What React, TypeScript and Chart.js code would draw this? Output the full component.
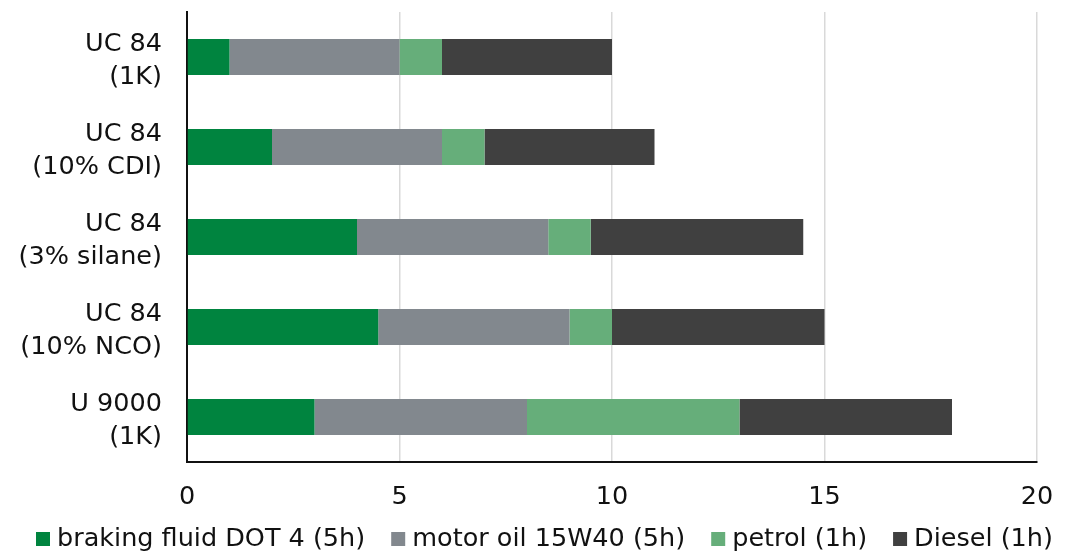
import React, { useEffect, useRef } from "react";
import { Chart, registerables } from "chart.js";

Chart.register(...registerables);

const categories: string[][] = [
  ["UC 84", "(1K)"],
  ["UC 84", "(10% CDI)"],
  ["UC 84", "(3% silane)"],
  ["UC 84", "(10% NCO)"],
  ["U 9000", "(1K)"],
];

const seriesNames = [
  "braking fluid DOT 4 (5h)",
  "motor oil 15W40 (5h)",
  "petrol (1h)",
  "Diesel (1h)",
];

const brakingFluid = [1, 2, 4, 4.5, 3];
const motorOil = [4, 4, 4.5, 4.5, 5];
const petrol = [1, 1, 1, 1, 5];
const diesel = [4, 4, 5, 5, 5];

const xTicks = [0, 5, 10, 15, 20];

const colors = ["#00843F", "#82888E", "#66AE7A", "#404040"];

const FONT = "'DejaVu Sans', Verdana, sans-serif";
const FS = 25.5;

// Legend drawn on the canvas below the x axis, using the datasets of the chart
const bottomLegend = {
  id: "bottomLegend",
  afterDraw(chart: any) {
    const ctx = chart.ctx as CanvasRenderingContext2D;
    const box = 14;
    const gapText = 7;
    const gapItem = 26;
    const cy = 538.5;
    ctx.save();
    ctx.font = `${FS}px ${FONT}`;
    ctx.textBaseline = "middle";
    ctx.textAlign = "left";
    const items = chart.data.datasets.map((d: any) => ({
      text: d.label as string,
      color: d.backgroundColor as string,
      w: ctx.measureText(d.label).width,
    }));
    const total =
      items.reduce((s: number, it: any) => s + box + gapText + it.w, 0) +
      gapItem * (items.length - 1);
    let x = Math.round(544.5 - total / 2);
    for (const it of items) {
      ctx.fillStyle = it.color;
      ctx.fillRect(x, Math.round(cy - box / 2), box, box);
      ctx.fillStyle = "#111";
      ctx.fillText(it.text, x + box + gapText, cy + 1);
      x += box + gapText + it.w + gapItem;
    }
    ctx.restore();
  },
};

export default function App() {
  const ref = useRef<HTMLCanvasElement | null>(null);

  useEffect(() => {
    if (!ref.current) return;
    const values = [brakingFluid, motorOil, petrol, diesel];
    const chart = new Chart(ref.current, {
      type: "bar",
      data: {
        labels: categories,
        datasets: values.map((v, i) => ({
          label: seriesNames[i],
          data: v,
          backgroundColor: colors[i],
          borderWidth: 0,
          categoryPercentage: 0.4,
          barPercentage: 1,
        })),
      },
      options: {
        indexAxis: "y",
        responsive: false,
        animation: false,
        layout: { padding: { top: 12, right: 32, left: 0, bottom: 0 } },
        plugins: {
          tooltip: { enabled: false },
          legend: { display: false },
        },
        scales: {
          x: {
            stacked: true,
            min: xTicks[0],
            max: xTicks[xTicks.length - 1],
            afterBuildTicks: (s: any) => {
              s.ticks = xTicks.map((v) => ({ value: v }));
            },
            afterFit: (s: any) => {
              s.height = 92;
              s.paddingLeft = 0;
              s.paddingRight = 0;
            },
            ticks: {
              padding: 20,
              color: "#111",
              font: { family: FONT, size: FS },
              maxRotation: 0,
            },
            grid: {
              drawTicks: false,
              color: (ctx: any) =>
                ctx.tick && ctx.tick.value === 0 ? "rgba(0,0,0,0)" : "#d9d9d9",
              lineWidth: 1.5,
            },
            border: { display: true, color: "#111", width: 2 },
          },
          y: {
            stacked: true,
            afterFit: (s: any) => {
              s.width = 187;
              s.paddingTop = 0;
              s.paddingBottom = 0;
            },
            ticks: {
              padding: 25,
              labelOffset: 4,
              color: "#111",
              font: { family: FONT, size: FS, lineHeight: 1.28 },
            },
            grid: { display: false, drawTicks: false },
            border: { display: true, color: "#111", width: 2 },
          },
        },
      },
      plugins: [bottomLegend],
    } as any);
    return () => chart.destroy();
  }, []);

  return (
    <div style={{ position: "absolute", left: 0, top: 0, width: 1069, height: 554, background: "#fff" }}>
      <canvas ref={ref} width={1069} height={554} style={{ display: "block" }} />
    </div>
  );
}
